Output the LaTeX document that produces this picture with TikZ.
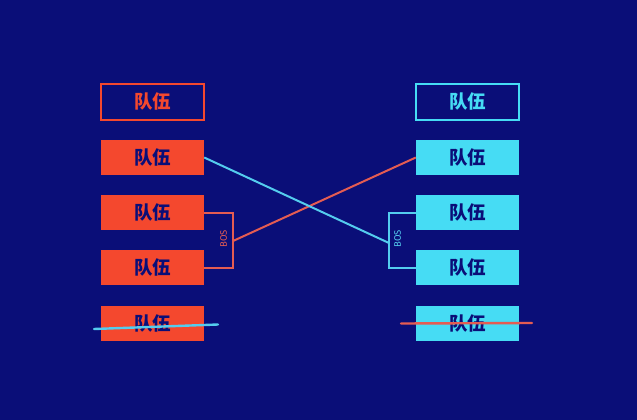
\documentclass[tikz,border=0pt]{standalone}
\usepackage{fontspec}
\newfontfamily\cjk{Noto Sans CJK SC Black}
\newfontfamily\latinfont{Fira Sans}
\usetikzlibrary{positioning}

\definecolor{navybg}{RGB}{10,14,120}
\definecolor{teamred}{RGB}{244,72,46}
\definecolor{teamcyan}{RGB}{70,220,244}
\definecolor{linkred}{RGB}{228,92,82}
\definecolor{linkcyan}{RGB}{84,204,238}

\begin{document}
\begin{tikzpicture}[x=1pt, y=-1pt,
        team/.style={minimum width=103pt, minimum height=35pt, inner sep=0pt,
            font=\cjk\fontsize{18.5}{18.5}\selectfont},
        teamfill/.style={team, fill=#1, text=navybg},
        teamhead/.style={team, draw=#1, line width=1.4pt, text=#1, minimum height=36pt},
        bracket/.style={draw=#1, line width=2pt},
        link/.style={draw=#1, line width=2pt},
        strike/.style={draw=#1, line width=2.4pt, line cap=round},
        boslabel/.style={font=\latinfont\fontsize{9.5}{9.5}\selectfont, text=#1, rotate=90}
    ]
        \fill[navybg] (0,0) rectangle (637,420);
        \useasboundingbox (0,0) rectangle (637,420);

        % left side
        \node[teamhead=teamred] (L0) at (152.5,102) {队伍};
        \node[teamfill=teamred] (L1) at (152.5,157.5) {队伍};
        \node[teamfill=teamred] (L2) at (152.5,212.5) {队伍};
        \node[teamfill=teamred] (L3) at (152.5,267.5) {队伍};
        \node[teamfill=teamred] (L4) at (152.5,323.5) {队伍};

        % right side
        \node[teamhead=teamcyan] (R0) at (467.5,102) {队伍};
        \node[teamfill=teamcyan] (R1) at (467.5,157.5) {队伍};
        \node[teamfill=teamcyan] (R2) at (467.5,212.5) {队伍};
        \node[teamfill=teamcyan] (R3) at (467.5,267.5) {队伍};
        \node[teamfill=teamcyan] (R4) at (467.5,323.5) {队伍};

        % brackets
        \draw[bracket=linkred] (L2.east) -- ++(29,0) |- (L3.east);
        \coordinate (lbos) at (233,241);
        \node[boslabel=linkred] (lbostext) at (223.5,239) {BOS};

        \draw[bracket=linkcyan] (R2.west) -- ++(-27,0) |- (R3.west);
        \coordinate (rbos) at (389,243);
        \node[boslabel=linkcyan] (rbostext) at (397.5,239) {BOS};

        % crossing links
        \draw[link=linkred] (lbos) -- (R1.west);
        \draw[link=linkcyan] (L1.east) -- (rbos);

        % struck out
        \coordinate (ls1) at (94,329);
        \coordinate (ls2) at (218,324.5);
        \draw[strike=linkcyan] (ls1) -- (ls2);
        \coordinate (rs1) at (401,323.5);
        \coordinate (rs2) at (532,323);
        \draw[strike=linkred] (rs1) -- (rs2);
\end{tikzpicture}
\end{document}
